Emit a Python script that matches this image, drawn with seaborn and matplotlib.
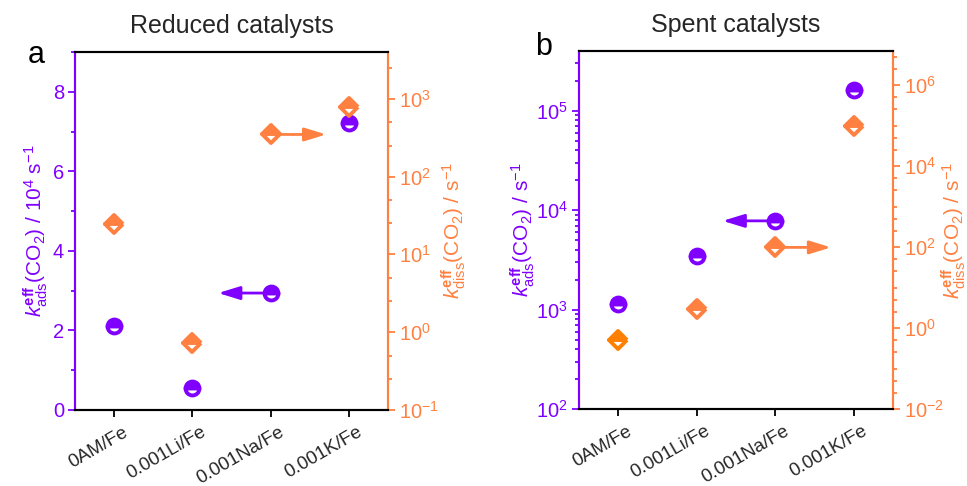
import numpy as np
import pandas as pd
import matplotlib
matplotlib.use("Agg")
import matplotlib.pyplot as plt
import matplotlib.transforms as mtransforms
from matplotlib.markers import MarkerStyle
import seaborn as sns
from matplotlib.ticker import MultipleLocator, LogLocator, FixedLocator, NullFormatter

# ---- data -------------------------------------------------------------
catalysts = ["0AM/Fe", "0.001Li/Fe", "0.001Na/Fe", "0.001K/Fe"]

# Reduced catalysts
reduced_k_ads = [2.11, 0.55, 2.94, 7.22]       # 10^4 s^-1
reduced_k_diss = [24.7, 0.72, 347.0, 776.0]    # s^-1

# Spent catalysts
spent_k_ads = [1150.0, 3470.0, 7800.0, 1.6e5]  # s^-1
spent_k_diss = [0.52, 2.9, 98.0, 1.0e5]        # s^-1

PURPLE = "#8000FF"
ORANGE = "#FF8040"
ORANGE_DARK = "#FF8000"

# ---- style ------------------------------------------------------------
sns.set_theme(style="white")
plt.rcParams["font.family"] = ["Liberation Sans", "DejaVu Sans"]
plt.rcParams["mathtext.fontset"] = "custom"
plt.rcParams["mathtext.rm"] = "Liberation Sans"
plt.rcParams["mathtext.it"] = "Liberation Sans:italic"
plt.rcParams["mathtext.bf"] = "Liberation Sans:bold"
plt.rcParams["axes.unicode_minus"] = False

XTICK_FS = 13.5
YTICK_FS = 14.5
LABEL_FS = 15
TITLE_FS = 18

# half-filled markers (top half solid, lower half white)
CIRCLE = MarkerStyle("o", fillstyle="top")
DIAMOND = MarkerStyle("D", fillstyle="top", joinstyle="round")

fig = plt.figure(figsize=(9.67, 4.86), dpi=100)
ax_a = fig.add_axes([0.0776, 0.1564, 0.3236, 0.7366])
ax_b = fig.add_axes([0.5988, 0.1584, 0.3247, 0.7366])

marker_kws = dict(markerfacecoloralt="white", markeredgewidth=2.8,
                  errorbar=None, linestyles="none")


def draw_panel(ax, k_ads, k_diss, diss_colors, left_log):
    ax2 = ax.twinx()
    df = pd.DataFrame({"catalyst": catalysts, "k_ads": k_ads,
                       "k_diss": k_diss, "diss_color": diss_colors})

    if left_log:
        ax.set_yscale("log")
    ax2.set_yscale("log")

    sns.pointplot(data=df, x="catalyst", y="k_ads", order=catalysts, ax=ax,
                  color=PURPLE, markers=CIRCLE, markersize=10, **marker_kws)
    for col, sub in df.groupby("diss_color", sort=False):
        sns.pointplot(data=sub, x="catalyst", y="k_diss", order=catalysts, ax=ax2,
                      color=col, markers=DIAMOND, markersize=9.5, **marker_kws)

    # arrows pointing at the axis each series belongs to
    na = catalysts.index("0.001Na/Fe")
    arrow_style = "-|>,head_length=0.65,head_width=0.2"
    ax.annotate("", xy=(na - 0.67, k_ads[na]), xytext=(na, k_ads[na]),
                arrowprops=dict(arrowstyle=arrow_style, color=PURPLE, lw=2,
                                shrinkA=0, shrinkB=0, mutation_scale=20), zorder=1)
    ax2.annotate("", xy=(na + 0.71, k_diss[na]), xytext=(na, k_diss[na]),
                 arrowprops=dict(arrowstyle=arrow_style, color=ORANGE, lw=2,
                                 shrinkA=0, shrinkB=0, mutation_scale=20), zorder=1)

    ax.set_xlim(-0.5, len(catalysts) - 0.5)
    ax.set_xlabel("")
    ax.set_ylabel("")
    ax2.set_ylabel("")

    for a in (ax, ax2):
        for s in a.spines.values():
            s.set_linewidth(1.5)
        a.spines["top"].set_color("black")
        a.spines["bottom"].set_color("black")
        a.spines["left"].set_color(PURPLE)
        a.spines["right"].set_color(ORANGE)
        a.grid(False)

    ax.tick_params(axis="x", which="major", direction="out", length=5, width=1.3,
                   color="black", labelsize=XTICK_FS, bottom=True, pad=5)
    ax.tick_params(axis="y", which="both", direction="out", colors=PURPLE,
                   labelsize=YTICK_FS, left=True, width=1.3, pad=3)
    ax.tick_params(axis="y", which="major", length=5)
    ax.tick_params(axis="y", which="minor", length=3)
    ax2.tick_params(axis="y", which="both", direction="out", colors=ORANGE,
                    labelsize=YTICK_FS, right=True, width=1.3, pad=3)
    ax2.tick_params(axis="y", which="major", length=5)
    ax2.tick_params(axis="y", which="minor", length=3)

    ax.set_xticks(range(len(catalysts)))
    ax.set_xticklabels(catalysts, rotation=30, ha="right", va="top",
                       rotation_mode="anchor")
    shift = mtransforms.ScaledTranslation(8 / 100, 0, fig.dpi_scale_trans)
    for lab in ax.get_xticklabels():
        lab.set_transform(lab.get_transform() + shift)
    return ax2


# ---- panel a: reduced catalysts --------------------------------------
ax_a2 = draw_panel(ax_a, reduced_k_ads, reduced_k_diss, [ORANGE] * 4, left_log=False)
ax_a.set_ylim(0, 9)
ax_a.yaxis.set_major_locator(MultipleLocator(2))
ax_a.yaxis.set_minor_locator(MultipleLocator(1))
ax_a2.set_ylim(0.1, 10 ** 3.6)
ax_a2.yaxis.set_major_locator(LogLocator(base=10, numticks=20))
ax_a2.yaxis.set_minor_locator(LogLocator(base=10, subs=(2.5, 5.0), numticks=20))
ax_a2.yaxis.set_minor_formatter(NullFormatter())

ax_a.set_ylabel(r"$\mathit{k}_{\mathrm{ads}}^{\mathbf{eff}}$(CO$_2$) / 10$^4$ s$^{-1}$",
                color=PURPLE, fontsize=LABEL_FS)
ax_a.yaxis.set_label_coords(-0.08, 0.5)
ax_a2.set_ylabel(r"$\mathit{k}_{\mathrm{diss}}^{\mathbf{eff}}$(CO$_2$) / s$^{-1}$",
                 color=ORANGE, fontsize=LABEL_FS)
ax_a2.yaxis.set_label_coords(1.165, 0.5)
ax_a.set_title("Reduced catalysts", fontsize=TITLE_FS, pad=14)

# ---- panel b: spent catalysts ----------------------------------------
ax_b2 = draw_panel(ax_b, spent_k_ads, spent_k_diss,
                   [ORANGE_DARK, ORANGE, ORANGE, ORANGE], left_log=True)
ax_b.set_ylim(100, 10 ** 5.6)
ax_b.yaxis.set_major_locator(LogLocator(base=10, numticks=20))
ax_b.yaxis.set_minor_locator(LogLocator(base=10, subs=np.arange(2, 10), numticks=20))
ax_b.yaxis.set_minor_formatter(NullFormatter())
ax_b2.set_ylim(0.01, 10 ** 6.84)
ax_b2.yaxis.set_major_locator(FixedLocator([10.0 ** e for e in range(-2, 7, 2)]))
minor_b2 = [m * 10.0 ** e for e in range(-2, 7) for m in (2.5, 5.0)]
minor_b2 += [10.0 ** e for e in range(-1, 7, 2)]
ax_b2.yaxis.set_minor_locator(FixedLocator(minor_b2))
ax_b2.yaxis.set_minor_formatter(NullFormatter())

ax_b.set_ylabel(r"$\mathit{k}_{\mathrm{ads}}^{\mathbf{eff}}$(CO$_2$) / s$^{-1}$",
                color=PURPLE, fontsize=LABEL_FS)
ax_b.yaxis.set_label_coords(-0.135, 0.5)
ax_b2.set_ylabel(r"$\mathit{k}_{\mathrm{diss}}^{\mathbf{eff}}$(CO$_2$) / s$^{-1}$",
                 color=ORANGE, fontsize=LABEL_FS)
ax_b2.yaxis.set_label_coords(1.148, 0.5)
ax_b.set_title("Spent catalysts", fontsize=TITLE_FS, pad=14)

# panel letters
fig.text(0.029, 0.870, "a", fontsize=22, color="black")
fig.text(0.553, 0.887, "b", fontsize=22, color="black")

fig.savefig("out.png", dpi=100)
